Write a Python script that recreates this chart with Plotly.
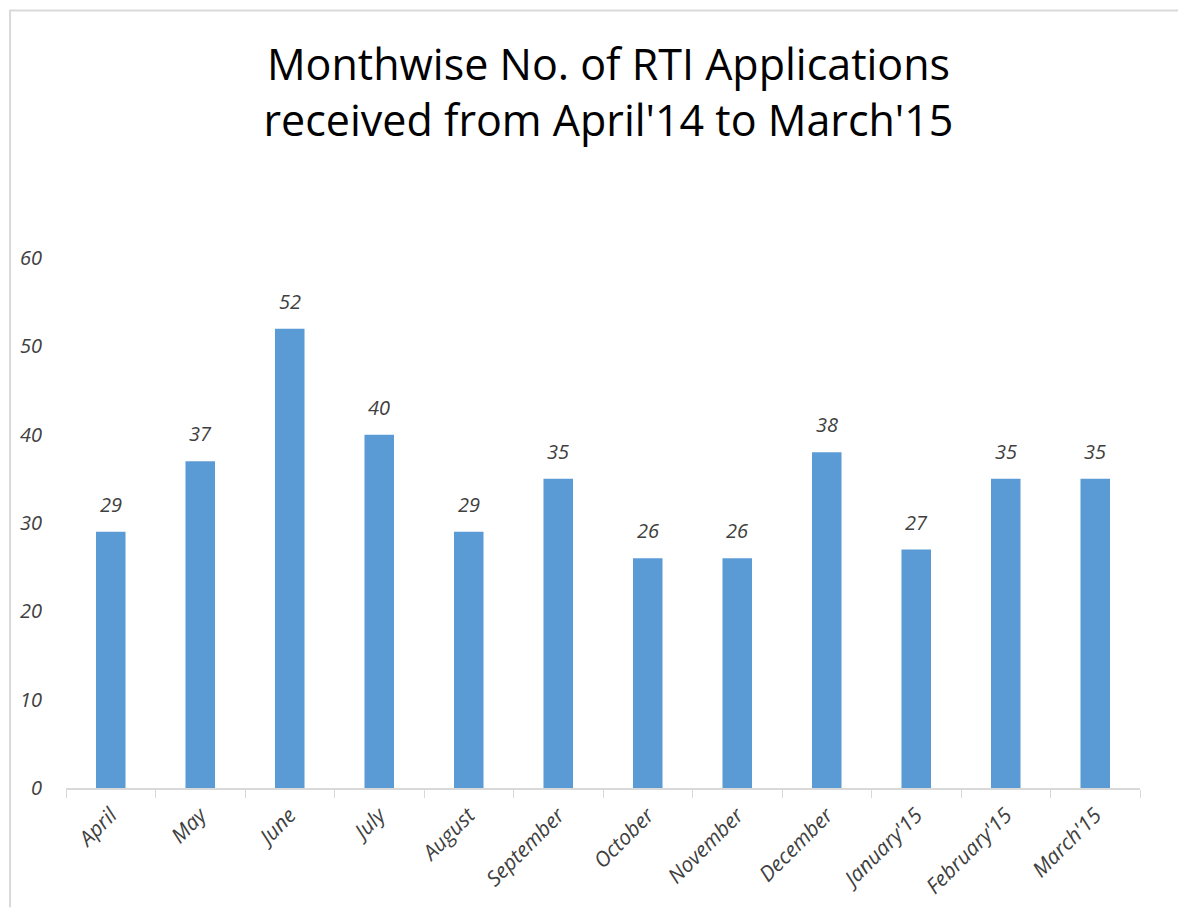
import plotly.graph_objects as go

months = ["April", "May", "June", "July", "August", "September", "October",
          "November", "December", "January'15", "February'15", "March'15"]
applications = [29, 37, 52, 40, 29, 35, 26, 26, 38, 27, 35, 35]
y_ticks = [0, 10, 20, 30, 40, 50, 60]

FONT = "Open Sans"
TXT = "#404040"

fig = go.Figure(go.Bar(
    x=months, y=applications,
    marker=dict(color="#5B9BD5", line=dict(width=0)),
))

# data labels above each bar
for m, v in zip(months, applications):
    fig.add_annotation(
        x=m, y=v, xref="x", yref="y", text=str(v), showarrow=False,
        yanchor="bottom", yshift=12,
        font=dict(family=FONT, size=20, color=TXT, style="italic"),
    )

# page body has an 8px margin; figure coordinates are page minus 8
W, H = 1170, 903
L, R, T, B = 57, 38, 250, 120
pw, ph = W - L - R, H - T - B

def px_x(p):
    return (p - L) / pw

def px_y(p):
    return (H - B - p) / ph

fig.update_layout(
    width=W, height=H,
    margin=dict(l=L, r=R, t=T, b=B),
    paper_bgcolor="white", plot_bgcolor="white",
    showlegend=False,
    bargap=0.67,
    title=dict(
        text="Monthwise No. of RTI Applications<br>received from April'14 to March'15",
        x=px_x(600), xref="paper", xanchor="center",
        y=1 - 72 / H, yref="container", yanchor="middle",
        font=dict(family=FONT, size=43, color="black"),
    ),
    xaxis=dict(
        showline=True, linecolor="#D9D9D9", linewidth=1.5,
        ticks="outside", tickson="boundaries", ticklen=8, tickcolor="#D9D9D9",
        tickangle=-45, showgrid=False, ticklabelstandoff=5,
        tickfont=dict(family=FONT, size=21, color=TXT, style="italic"),
    ),
    yaxis=dict(
        range=[0, 60], tickvals=y_ticks, showgrid=False, zeroline=False,
        showline=False, ticks="", ticklabelstandoff=23,
        tickfont=dict(family=FONT, size=20, color=TXT, style="italic"),
    ),
    shapes=[dict(
        type="path", xref="paper", yref="paper",
        path=f"M {px_x(1)} {px_y(H)} L {px_x(1)} {px_y(1)} L {px_x(W)} {px_y(1)}",
        line=dict(color="#D9D9D9", width=2),
    )],
)

fig.write_html("out.html")
